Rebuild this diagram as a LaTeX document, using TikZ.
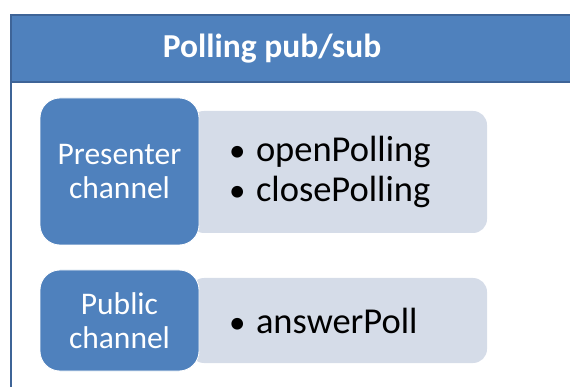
\documentclass[tikz,border=0pt]{standalone}
\usepackage{fontspec}
\setmainfont{Carlito}
\usetikzlibrary{positioning}
\definecolor{chanblue}{HTML}{4F81BD}
\definecolor{framblue}{HTML}{3E6497}
\definecolor{listgray}{HTML}{D5DCE8}
\newcommand{\blt}{\makebox[27pt][l]{\fontsize{33}{33}\selectfont•}}
\begin{document}
\begin{tikzpicture}[x=1pt,y=-1pt,
	chanbox/.style={rounded corners=20pt,fill=chanblue,draw=white,line width=0.8pt,text=white,align=center,font=\fontsize{31.5}{34}\selectfont,inner sep=0pt},
	listbox/.style={rounded corners=14pt,fill=listgray,inner sep=0pt},
	listtext/.style={anchor=west,align=left,inner sep=0pt,font=\fontsize{36.5}{40}\selectfont}]
	\useasboundingbox (0,0) rectangle (570,387);
	% frame with title band
	\fill[chanblue] (10.5,15) rectangle (575,82);
	\draw[framblue,line width=2pt] (575,15)--(10.5,15)--(10.5,390);
	\draw[framblue,line width=2pt] (10.5,82)--(575,82);
	\node[text=white,font=\bfseries\fontsize{33.5}{38}\selectfont] (title) at (272,49) {Polling pub/sub};
	% presenter channel
	\node[listbox,minimum width=297,minimum height=122] (presList) at (338.5,172) {};
	\node[chanbox,minimum width=159,minimum height=147] (pres) at (119.5,171.5) {Presenter\\channel};
	\node[listtext,right=39pt of presList.west] (presItems) {\blt openPolling\\\blt closePolling};
	% public channel
	\node[listbox,minimum width=297,minimum height=85] (pubList) at (338.5,320.5) {};
	\node[chanbox,minimum width=159,minimum height=101] (pub) at (119.5,320.5) {Public\\channel};
	\node[listtext,right=39pt of pubList.west] (pubItems) {\blt answerPoll};
\end{tikzpicture}
\end{document}
